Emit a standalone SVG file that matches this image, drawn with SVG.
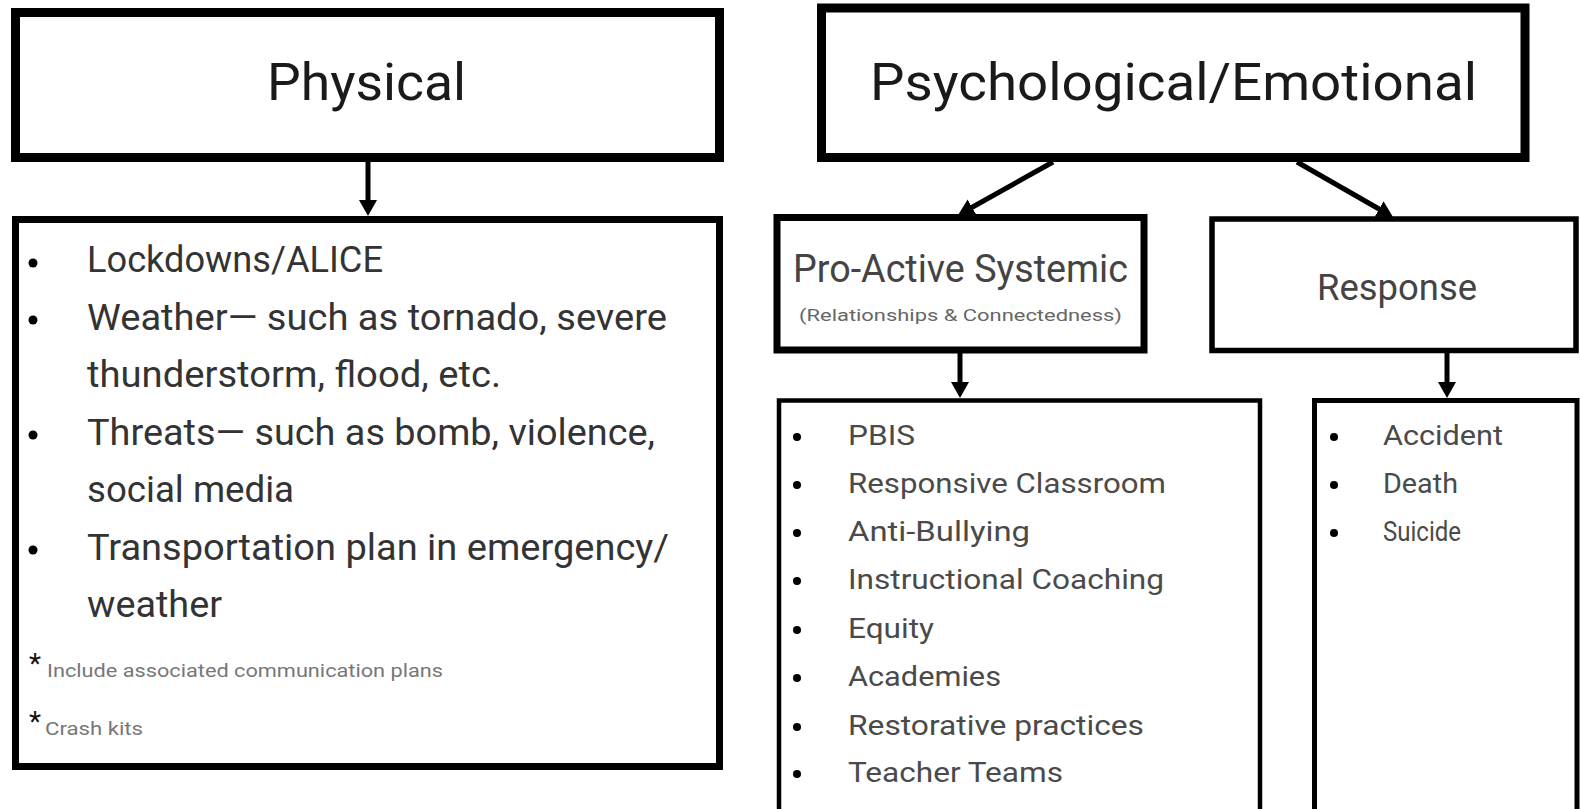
<svg xmlns="http://www.w3.org/2000/svg" width="1580" height="809" viewBox="0 0 1580 809">
<style>
.box{fill:#fff;stroke:#000}
.t{font-family:Roboto,"Liberation Sans",sans-serif}
.title{font-size:52px;fill:#1a1a1a}
.li{font-size:37px;fill:#333}
.sub{font-size:38px;fill:#444}
.sm{font-size:28px;fill:#4a4a4a}
.fn{font-size:18px;fill:#777}
.ast{font-size:28px;fill:#111}
.conn{stroke:#000;stroke-width:5;fill:none}
</style>
<defs>
<marker id="ah" viewBox="0 0 16 18" refX="6" refY="9" markerWidth="16" markerHeight="18" markerUnits="userSpaceOnUse" orient="auto">
<path d="M0,0 L16,9 L0,18 z" fill="#000"/>
</marker>
</defs>

<g id="physical">
<rect class="box" x="15.5" y="12.5" width="704" height="145" stroke-width="9"/>
<text class="t title" x="267" y="100" textLength="199" lengthAdjust="spacingAndGlyphs">Physical</text>
</g>

<g id="physical-list">
<rect class="box" x="15.5" y="219.5" width="704" height="547" stroke-width="7"/>
<circle cx="33" cy="263" r="4.5"/>
<circle cx="33" cy="320" r="4.5"/>
<circle cx="33" cy="435" r="4.5"/>
<circle cx="33" cy="550" r="4.5"/>
<text class="t li" x="87" y="272" textLength="296" lengthAdjust="spacingAndGlyphs">Lockdowns/ALICE</text>
<text class="t li" x="87" y="329.5" textLength="580" lengthAdjust="spacingAndGlyphs">Weather— such as tornado, severe</text>
<text class="t li" x="87" y="387" textLength="414" lengthAdjust="spacingAndGlyphs">thunderstorm, flood, etc.</text>
<text class="t li" x="87" y="444.5" textLength="568" lengthAdjust="spacingAndGlyphs">Threats— such as bomb, violence,</text>
<text class="t li" x="87" y="502" textLength="207" lengthAdjust="spacingAndGlyphs">social media</text>
<text class="t li" x="87" y="559.5" textLength="582" lengthAdjust="spacingAndGlyphs">Transportation plan in emergency/</text>
<text class="t li" x="87" y="617" textLength="135" lengthAdjust="spacingAndGlyphs">weather</text>
<text class="t"><tspan class="ast" x="29" y="673">*</tspan><tspan class="fn" x="47" y="677" textLength="396" lengthAdjust="spacingAndGlyphs">Include associated communication plans</tspan></text>
<text class="t"><tspan class="ast" x="29" y="731">*</tspan><tspan class="fn" x="45" y="735" textLength="98" lengthAdjust="spacingAndGlyphs">Crash kits</tspan></text>
</g>

<g id="psych">
<rect class="box" x="821.5" y="8" width="703.5" height="149.5" stroke-width="9"/>
<text class="t title" x="870" y="100" textLength="607" lengthAdjust="spacingAndGlyphs">Psychological/Emotional</text>
</g>

<g id="proactive">
<rect class="box" x="777" y="217.5" width="367" height="132.5" stroke-width="7"/>
<text class="t sub" x="793" y="282" textLength="335" lengthAdjust="spacingAndGlyphs">Pro-Active Systemic</text>
<text class="t" x="799" y="321" font-size="17" fill="#666" textLength="323" lengthAdjust="spacingAndGlyphs">(Relationships &amp; Connectedness)</text>
</g>

<g id="response">
<rect class="box" x="1212" y="219" width="364" height="131.5" stroke-width="5.5"/>
<text class="t" x="1317" y="300" font-size="37" fill="#444" textLength="160" lengthAdjust="spacingAndGlyphs">Response</text>
</g>

<g id="proactive-list">
<rect class="box" x="779" y="400.5" width="481" height="430" stroke-width="4.5"/>
<circle cx="797" cy="437" r="4"/>
<circle cx="797" cy="485" r="4"/>
<circle cx="797" cy="533" r="4"/>
<circle cx="797" cy="581" r="4"/>
<circle cx="797" cy="630" r="4"/>
<circle cx="797" cy="678" r="4"/>
<circle cx="797" cy="727" r="4"/>
<circle cx="797" cy="774" r="4"/>
<text class="t sm" x="848" y="445" textLength="67" lengthAdjust="spacingAndGlyphs">PBIS</text>
<text class="t sm" x="848" y="493" textLength="318" lengthAdjust="spacingAndGlyphs">Responsive Classroom</text>
<text class="t sm" x="848" y="541" textLength="182" lengthAdjust="spacingAndGlyphs">Anti-Bullying</text>
<text class="t sm" x="848" y="589" textLength="316" lengthAdjust="spacingAndGlyphs">Instructional Coaching</text>
<text class="t sm" x="848" y="638" textLength="86" lengthAdjust="spacingAndGlyphs">Equity</text>
<text class="t sm" x="848" y="686" textLength="153" lengthAdjust="spacingAndGlyphs">Academies</text>
<text class="t sm" x="848" y="735" textLength="296" lengthAdjust="spacingAndGlyphs">Restorative practices</text>
<text class="t sm" x="848" y="782" textLength="215" lengthAdjust="spacingAndGlyphs">Teacher Teams</text>
</g>

<g id="response-list">
<rect class="box" x="1314.5" y="400.5" width="262.5" height="430" stroke-width="5"/>
<circle cx="1334" cy="437" r="4"/>
<circle cx="1334" cy="485" r="4"/>
<circle cx="1334" cy="533" r="4"/>
<text class="t sm" x="1383" y="445" textLength="120" lengthAdjust="spacingAndGlyphs">Accident</text>
<text class="t sm" x="1383" y="493" textLength="75" lengthAdjust="spacingAndGlyphs">Death</text>
<text class="t sm" x="1383" y="541" textLength="78" lengthAdjust="spacingAndGlyphs">Suicide</text>
</g>

<g id="connectors">
<line class="conn" x1="368" y1="162" x2="368" y2="206" marker-end="url(#ah)"/>
<line class="conn" x1="1053" y1="162" x2="966.8" y2="210.2" marker-end="url(#ah)"/>
<line class="conn" x1="1297" y1="162" x2="1384.3" y2="212" marker-end="url(#ah)"/>
<line class="conn" x1="960" y1="353" x2="960" y2="388" marker-end="url(#ah)"/>
<line class="conn" x1="1447" y1="353" x2="1447" y2="388" marker-end="url(#ah)"/>
</g>
</svg>
